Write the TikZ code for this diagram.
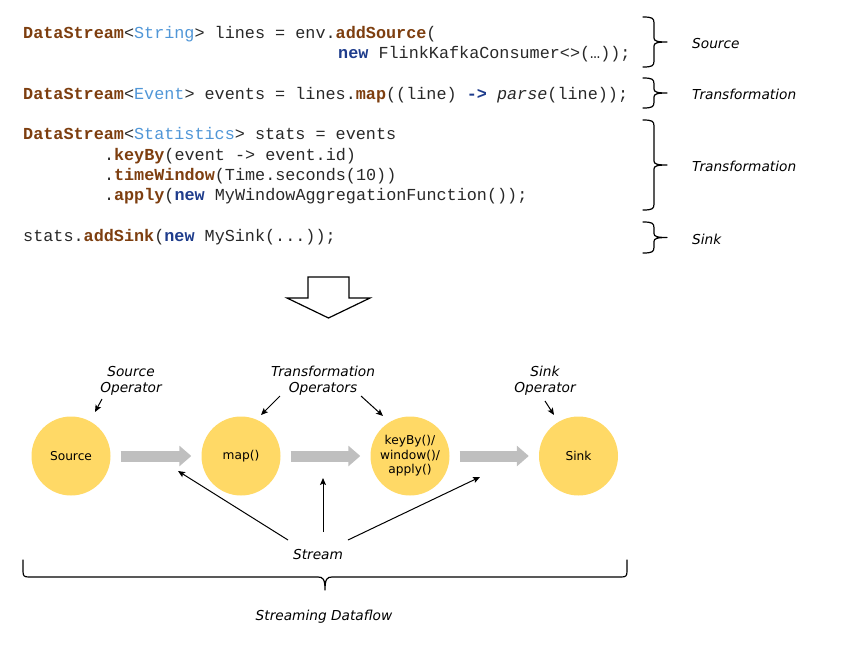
\documentclass[tikz,border=0pt]{standalone}
\usepackage{fontspec}
\setmainfont{DejaVu Sans}
\newfontfamily\codefont{Liberation Mono}
\usetikzlibrary{arrows.meta}
\definecolor{kwbrown}{RGB}{125,62,15}
\definecolor{tyblue}{RGB}{80,150,215}
\definecolor{nwblue}{RGB}{30,60,140}
\definecolor{codegray}{RGB}{40,40,40}
\definecolor{opyellow}{RGB}{255,217,102}
\definecolor{flowgray}{RGB}{191,191,191}
\newcommand\kw[1]{\textcolor{kwbrown}{\textbf{#1}}}
\newcommand\ty[1]{\textcolor{tyblue}{#1}}
\newcommand\nw[1]{\textcolor{nwblue}{\textbf{#1}}}
\newcommand\rbr[3]{%
  \pgfmathsetmacro\bm{(#2+#3)/2}%
  \pgfmathsetmacro\bl{#1+11}%
  \pgfmathsetmacro\bt{#1+24}%
  \draw[bracestyle] (#1,#2) .. controls (\bl-2,#2) and (\bl,#2+1) .. (\bl,#2+6)
    -- (\bl,\bm-4) .. controls (\bl,\bm-1) and (\bl+3,\bm) .. (\bt,\bm)
    .. controls (\bl+3,\bm) and (\bl,\bm+1) .. (\bl,\bm+4)
    -- (\bl,#3-6) .. controls (\bl,#3-1) and (\bl-2,#3) .. (#1,#3);}
\begin{document}
\begin{tikzpicture}[x=1pt,y=-1pt,
  codeline/.style={anchor=base west,inner sep=0pt,font=\codefont\fontsize{16.8}{20}\selectfont,text=codegray},
  sidelabel/.style={anchor=west,inner sep=0pt,font=\itshape\fontsize{13.7}{16}\selectfont},
  oplabel/.style={align=center,inner sep=0pt,font=\itshape\fontsize{13.7}{16}\selectfont},
  opnode/.style={circle,fill=opyellow,minimum size=79pt,inner sep=0pt,align=center,font=\fontsize{12.2}{14.5}\selectfont},
  flow/.style={line width=11pt,color=flowgray,-{Triangle[length=12pt,width=20pt]},shorten <=10pt,shorten >=10pt},
  thinarrow/.style={line width=1pt,-{Stealth[length=7pt,width=6pt,inset=1.5pt]}},
  bracestyle/.style={line width=1.2pt,line cap=round,line join=round}]
\useasboundingbox (0,0) rectangle (846,646);
% code
\node[codeline] (l1) at (23,38) {\kw{DataStream}<\ty{String}> lines = env.\kw{addSource}(};
\node[codeline] (l2) at (338,58) {\nw{new} FlinkKafkaConsumer<>(…));};
\node[codeline] (l3) at (23,99) {\kw{DataStream}<\ty{Event}> events = lines.\kw{map}((line) \nw{->} \textit{parse}(line));};
\node[codeline] (l4) at (23,139) {\kw{DataStream}<\ty{Statistics}> stats = events};
\node[codeline] (l5) at (103.8,160) {.\kw{keyBy}(event -> event.id)};
\node[codeline] (l6) at (103.8,180) {.\kw{timeWindow}(Time.seconds(10))};
\node[codeline] (l7) at (103.8,200) {.\kw{apply}(\nw{new} MyWindowAggregationFunction());};
\node[codeline] (l8) at (23,241) {stats.\kw{addSink}(\nw{new} MySink(...));};
% braces + labels
\rbr{643}{17}{67}
\rbr{643}{78}{108}
\rbr{643}{120}{210}
\rbr{643}{222}{253}
\node[sidelabel] (s1) at (692,44) {Source};
\node[sidelabel] (s2) at (692,94) {Transformation};
\node[sidelabel] (s3) at (692,166) {Transformation};
\node[sidelabel] (s4) at (692,239) {Sink};
% big hollow arrow
\draw[line width=1.2pt,line join=miter] (308,277) -- (349,277) -- (349,298) -- (370,298) -- (328.5,318) -- (287,298) -- (308,298) -- cycle;
% operators
\node[opnode] (src) at (71,456) {Source};
\node[opnode] (map) at (241,456) {map()};
\node[opnode] (win) at (410,456) {keyBy()/\\window()/\\apply()};
\node[opnode] (snk) at (578.5,456) {Sink};
\draw[flow] (src) -- (map);
\draw[flow] (map) -- (win);
\draw[flow] (win) -- (snk);
% operator labels
\node[oplabel] (srcop) at (131,381) {Source\\Operator};
\node[oplabel] (trop) at (323,381) {Transformation\\Operators};
\node[oplabel] (snkop) at (545,381) {Sink\\Operator};
\coordinate (a1s) at (102,399); \coordinate (a1e) at (95,412);
\coordinate (a2s) at (280,396); \coordinate (a2e) at (261,415);
\coordinate (a3s) at (361,396); \coordinate (a3e) at (383,416);
\coordinate (a4s) at (545,401); \coordinate (a4e) at (554,415);
\draw[thinarrow] (a1s) -- (a1e);
\draw[thinarrow] (a2s) -- (a2e);
\draw[thinarrow] (a3s) -- (a3e);
\draw[thinarrow] (a4s) -- (a4e);
% stream
\node[oplabel] (stream) at (318,554.5) {Stream};
\coordinate (st1) at (288,540); \coordinate (se1) at (178,471);
\coordinate (st2) at (323,532); \coordinate (se2) at (323,478);
\coordinate (st3) at (348,540); \coordinate (se3) at (480,477);
\draw[thinarrow] (st1) -- (se1);
\draw[thinarrow] (st2) -- (se2);
\draw[thinarrow] (st3) -- (se3);
% bottom brace
\draw[bracestyle] (23,560) -- (23,571) .. controls (23,576) and (24,577) .. (29,577) -- (318,577)
  .. controls (323,577) and (325,579) .. (325,590) .. controls (325,579) and (327,577) .. (332,577)
  -- (621,577) .. controls (626,577) and (627,576) .. (627,571) -- (627,560);
\node[oplabel] (flowlbl) at (324,617) {Streaming Dataflow};
\end{tikzpicture}
\end{document}
